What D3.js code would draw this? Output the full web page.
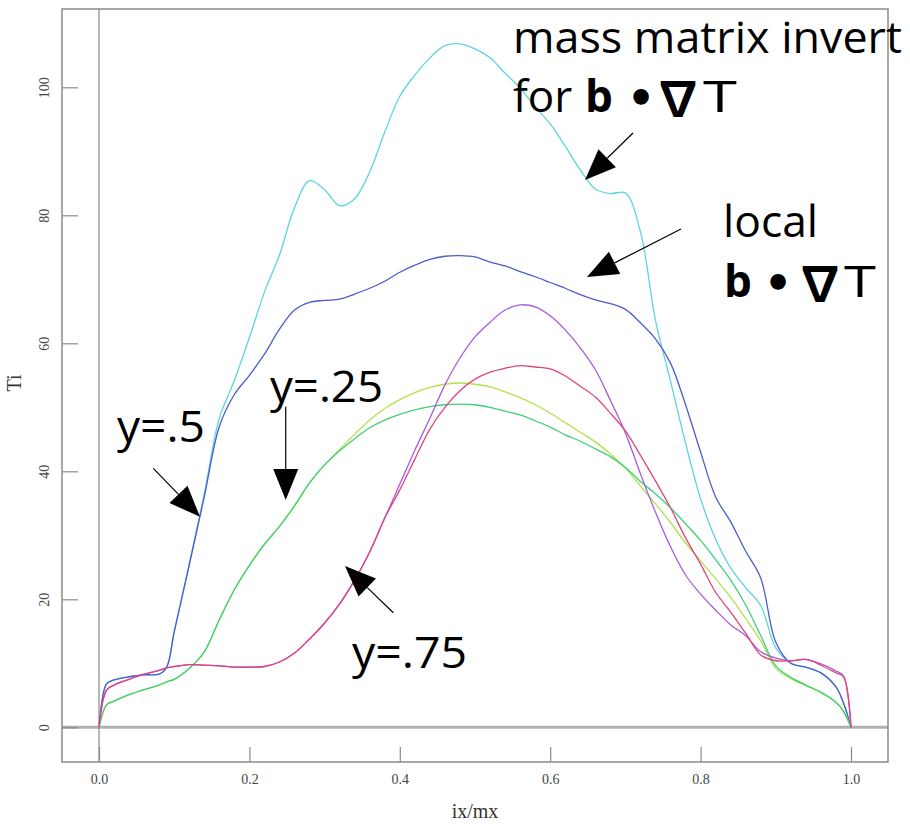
<!DOCTYPE html>
<html><head><meta charset="utf-8">
<script src="https://cdn.jsdelivr.net/npm/d3@7"></script>
<style>html,body{margin:0;padding:0;background:#fff;}svg{display:block;}</style>
</head><body>
<script>
// ---- data ----
const xs = [0,0.01,0.02,0.04,0.06,0.08,0.09,0.10,0.12,0.14,0.16,0.18,0.20,0.22,0.24,0.26,0.28,0.30,0.32,0.34,0.36,0.38,0.40,0.42,0.44,0.46,0.48,0.50,0.52,0.54,0.56,0.58,0.60,0.62,0.64,0.66,0.68,0.70,0.72,0.74,0.76,0.78,0.80,0.82,0.84,0.86,0.88,0.90,0.92,0.94,0.96,0.98,0.99,1.0];

const massY50  = [0,6.8,7.4,7.9,8.2,8.3,9.4,14.9,25.4,36.5,48.3,54.2,60.9,68.0,73.8,81.2,85.4,84.0,81.5,82.6,86.8,93.0,98.6,101.9,104.6,106.5,106.8,106.0,104.6,102.2,99.9,96.9,94.3,90.8,87.1,84.1,83.4,83.5,77.4,63.6,54.1,44.4,35.7,29.4,24.9,21.8,19.0,12.4,10.0,9.4,8.5,6.3,3.8,0];
const localY50 = [0,6.8,7.4,7.9,8.2,8.3,9.4,14.9,25.4,36.0,47.0,52.0,55.0,58.3,62.2,65.2,66.4,66.7,66.9,67.7,68.6,69.7,71.1,72.2,73.1,73.6,73.7,73.5,72.7,72.1,71.2,70.4,69.5,68.6,67.6,66.8,66.2,65.3,63.2,60.7,56.9,50.4,43.0,36.0,32.1,27.5,23.3,13.3,10.0,9.4,8.5,6.3,3.8,0];
const massY25  = [0,3.5,4.1,5.1,5.9,6.6,7.1,7.5,9.2,11.8,16.8,21.5,25.3,28.6,31.4,34.6,38.2,41.0,43.4,45.8,48.0,49.8,51.2,52.3,53.1,53.6,53.8,53.6,53.2,52.4,51.5,50.4,49.1,47.6,46.1,44.6,42.7,40.5,37.7,34.9,32.0,28.8,26.0,23.2,20.3,17.0,13.5,9.2,7.6,6.5,5.4,3.9,2.5,0];
const localY25 = [0,3.5,4.1,5.1,5.9,6.6,7.1,7.5,9.2,11.8,16.8,21.5,25.3,28.6,31.4,34.6,38.2,41.0,43.2,45.1,46.8,48.0,48.9,49.6,50.1,50.4,50.5,50.4,50.0,49.4,48.8,47.9,46.9,45.7,44.7,43.5,42.3,40.6,38.4,36.5,34.3,31.8,29.2,26.2,23.0,19.1,14.3,9.6,7.8,6.6,5.5,3.9,2.5,0];
const massY75  = [0,5.8,6.6,7.5,8.3,8.9,9.3,9.5,9.8,9.7,9.6,9.4,9.4,9.5,10.2,11.6,13.8,16.3,19.3,23.0,27.4,32.7,38.0,43.3,48.3,53.5,57.7,61.0,63.3,65.2,66.0,65.7,64.3,62.1,59.3,55.9,51.1,46.0,39.6,33.6,28.2,23.8,20.8,18.3,16.0,14.3,11.8,10.8,10.4,10.6,9.9,8.8,8.0,0];
const localY75 = [0,5.8,6.6,7.5,8.3,8.9,9.3,9.5,9.8,9.7,9.6,9.4,9.4,9.5,10.2,11.6,13.8,16.3,19.3,23.0,27.4,32.7,37.1,41.9,46.6,50.0,52.6,54.4,55.5,56.1,56.5,56.3,56.0,54.9,53.3,51.6,49.1,46.3,42.5,38.5,34.3,29.6,25.5,21.1,18.0,14.7,11.3,10.4,10.4,10.6,9.7,8.5,7.9,0];

const seriesNames  = ["massY50","localY50","massY25","localY25","massY75","localY75"];
const seriesValues = [massY50, localY50, massY25, localY25, massY75, localY75];
const seriesColors = ["#5cd6da","#4c5ccc","#b2e24a","#3fcf78","#a85ae0","#e0447e"];

const xTicks = [0,0.2,0.4,0.6,0.8,1.0];
const yTicks = [0,20,40,60,80,100];
const xLabel = "ix/mx";
const yLabel = "Ti";

// annotation texts (anchored in data units); part offsets are px from the line start
const annoTexts = [
  {x:0.5505, y:105.36, parts:[{t:"mass matrix invert",o:0}], len:389},
  {x:0.5505, y:96.14, parts:[{t:"for",o:0},{t:"b",o:72,b:1},{t:"•",o:114,dot:1},{t:"∇",o:141,nab:1},{t:"T",o:190,w:34}]},
  {x:0.8298, y:76.6, parts:[{t:"local",o:0}], len:95},
  {x:0.8298, y:67.2, parts:[{t:"b",o:1,b:1},{t:"•",o:41,dot:1},{t:"∇",o:73,nab:1},{t:"T",o:121,w:32}]},
  {x:0.0239, y:44.6, parts:[{t:"y=.5",o:0}], len:88},
  {x:0.2274, y:50.8, parts:[{t:"y=.25",o:0}], len:113},
  {x:0.3364, y:9.27, parts:[{t:"y=.75",o:0}], len:115}
];
const arrows = [
  {x0:0.7101,y0:92.86,x1:0.6463,y1:85.52},
  {x0:0.7739,y0:77.86,x1:0.6489,y1:70.36},
  {x0:0.0722,y0:40.47,x1:0.1343,y1:32.9},
  {x0:0.2483,y0:50.1,x1:0.2483,y1:35.5},
  {x0:0.3914,y0:17.9,x1:0.3271,y1:25.2}
];

// ---- drawing ----
const W=910,H=826;
const svg=d3.select("body").append("svg").attr("width",W).attr("height",H);
const frame={l:62,r:888,t:9,b:762};
const x=d3.scaleLinear().domain([0,1]).range([99,851]);
const y=d3.scaleLinear().domain([0,100]).range([727.3,87.3]);

const gray="#8a8a8a";
svg.append("line").attr("x1",frame.l).attr("x2",frame.r).attr("y1",y(0)).attr("y2",y(0))
  .attr("stroke","#b0b0b0").attr("stroke-width",3);
svg.append("line").attr("x1",x(0)).attr("x2",x(0)).attr("y1",frame.t).attr("y2",frame.b)
  .attr("stroke",gray).attr("stroke-width",1.2);

const serif="'Liberation Serif','DejaVu Serif',serif";
const xAxis=d3.axisBottom(x).tickValues(xTicks).tickSize(-15).tickFormat(d3.format(".1f"));
const gx=svg.append("g").attr("transform",`translate(0,${frame.b})`).call(xAxis);
gx.select(".domain").remove();
gx.selectAll(".tick line").attr("stroke",gray).attr("stroke-width",1.2);
gx.selectAll(".tick text").attr("font-family",serif).attr("font-size",14).attr("fill","#444").attr("dy","0.32em").attr("y",18);

const yAxis=d3.axisLeft(y).tickValues(yTicks).tickSize(-16).tickFormat(d3.format("d"));
const gy=svg.append("g").attr("transform",`translate(${frame.l},0)`).call(yAxis);
gy.select(".domain").remove();
gy.selectAll(".tick line").attr("stroke",gray).attr("stroke-width",1.2);
gy.selectAll(".tick text").attr("font-family",serif).attr("font-size",14).attr("fill","#444")
  .attr("x",0).attr("dy",0).attr("text-anchor","middle").attr("transform","translate(-13,0) rotate(-90)");

svg.append("rect").attr("x",frame.l).attr("y",frame.t).attr("width",frame.r-frame.l).attr("height",frame.b-frame.t)
  .attr("fill","none").attr("stroke",gray).attr("stroke-width",1.5);

svg.append("text").attr("x",475).attr("y",818).attr("text-anchor","middle")
  .attr("font-family",serif).attr("font-size",20).attr("fill","#333").text(xLabel);
svg.append("text").attr("transform","translate(21,383) rotate(-90)").attr("text-anchor","middle")
  .attr("font-family",serif).attr("font-size",20).attr("fill","#333").text(yLabel);

// curves
const line=d3.line().x((d,i)=>x(xs[i])).y(d=>y(d)).curve(d3.curveCatmullRom.alpha(0.5));
seriesValues.forEach((vals,k)=>{
  svg.append("path").datum(vals).attr("class",seriesNames[k])
    .attr("d",line).attr("fill","none").attr("stroke",seriesColors[k]).attr("stroke-width",1.3);
});

// annotations
const af="'Open Sans','Noto Sans','DejaVu Sans',sans-serif";
annoTexts.forEach(a=>{
  const X=x(a.x),Y=y(a.y);
  const t=svg.append("text").attr("y",Y).attr("font-family",af).attr("font-size",44).attr("fill","#000");
  a.parts.forEach(p=>{
    const s=t.append("tspan").attr("x",X+p.o).attr("y",Y).text(p.t);
    if(p.b) s.attr("font-weight","bold");
    if(p.dot) s.attr("font-family","'DejaVu Sans',sans-serif").attr("font-size",44).attr("font-weight","bold").attr("y",Y+1);
    if(p.nab) s.attr("font-family","'Noto Sans CJK JP','DejaVu Sans',sans-serif").attr("font-weight","bold").attr("font-size",48).attr("y",Y+4);
    if(p.w) s.attr("textLength",p.w).attr("lengthAdjust","spacingAndGlyphs");
  });
  if(a.len) t.attr("textLength",a.len).attr("lengthAdjust","spacingAndGlyphs");
});

arrows.forEach(a=>{
  const X0=x(a.x0),Y0=y(a.y0),X1=x(a.x1),Y1=y(a.y1);
  const dx=X1-X0,dy=Y1-Y0,L=Math.hypot(dx,dy),ux=dx/L,uy=dy/L;
  const hl=31,hw=12.5;
  const bx=X1-ux*hl,by=Y1-uy*hl;
  svg.append("line").attr("x1",X0).attr("y1",Y0).attr("x2",bx).attr("y2",by).attr("stroke","#000").attr("stroke-width",1.2);
  svg.append("path").attr("d",`M${X1},${Y1}L${bx-uy*hw},${by+ux*hw}L${bx+uy*hw},${by-ux*hw}Z`).attr("fill","#000");
});
</script>
</body></html>
